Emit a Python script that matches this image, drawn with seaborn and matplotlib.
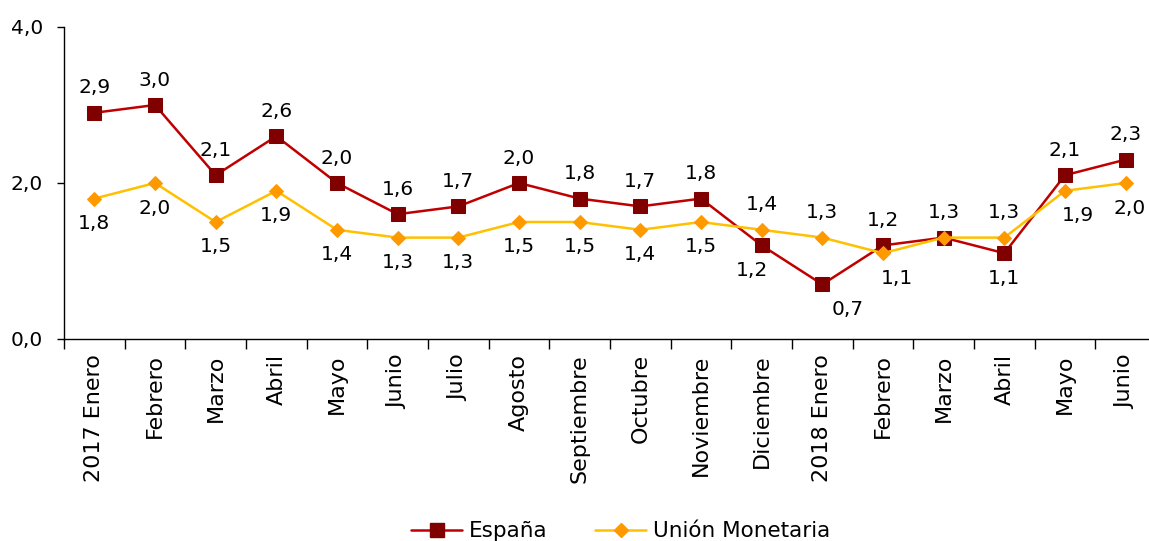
import numpy as np
import pandas as pd
import matplotlib
matplotlib.use("Agg")
import matplotlib.pyplot as plt
import seaborn as sns
from matplotlib.lines import Line2D

months = ["2017 Enero", "Febrero", "Marzo", "Abril", "Mayo", "Junio", "Julio", "Agosto",
          "Septiembre", "Octubre", "Noviembre", "Diciembre", "2018 Enero", "Febrero",
          "Marzo", "Abril", "Mayo", "Junio"]
espana = [2.9, 3.0, 2.1, 2.6, 2.0, 1.6, 1.7, 2.0, 1.8, 1.7, 1.8, 1.2, 0.7, 1.2, 1.3, 1.1, 2.1, 2.3]
union = [1.8, 2.0, 1.5, 1.9, 1.4, 1.3, 1.3, 1.5, 1.5, 1.4, 1.5, 1.4, 1.3, 1.1, 1.3, 1.3, 1.9, 2.0]

sns.set_theme(style="white")
plt.rcParams['font.family'] = ['DejaVu Sans']
plt.rcParams['text.color'] = 'black'
plt.rcParams['xtick.color'] = 'black'
plt.rcParams['ytick.color'] = 'black'
plt.rcParams['axes.labelcolor'] = 'black'

fig = plt.figure(figsize=(11.49, 5.41), dpi=100)
ax = fig.add_axes([64.0 / 1149, 1 - 339 / 541, (1156 - 64.0) / 1149, (339 - 27) / 541])

idx = np.arange(len(months))
df = pd.DataFrame({"x": idx, "España": espana, "Unión Monetaria": union})

LW = 1.8
sns.lineplot(data=df, x="x", y="España", ax=ax, color="#C00000", lw=LW,
             marker="s", markersize=9.5, markerfacecolor="#800000",
             markeredgecolor="#800000", sort=False, clip_on=False)
sns.lineplot(data=df, x="x", y="Unión Monetaria", ax=ax, color="#FFC000", lw=LW,
             marker="D", markersize=7, markerfacecolor="#FF9900",
             markeredgecolor="#FF9900", sort=False, clip_on=False)

def fmt(v):
    return f"{v:.1f}".replace(".", ",")

LFS = 14.5
esp_below = {11: (-7, -18), 12: (18, -18), 15: (0, -18)}
um_above = {11: (0, 18), 12: (0, 18), 14: (0, 18), 15: (0, 18)}
um_shift = {13: 10, 16: 9, 17: 3}
um_skip = {14}  # coincides exactly with the España label

for i, v in enumerate(espana):
    off = esp_below.get(i, (0, 18))
    ax.annotate(fmt(v), (i, v), xytext=off, textcoords="offset points",
                ha="center", va="center", fontsize=LFS, color="black", annotation_clip=False)
for i, v in enumerate(union):
    if i in um_skip:
        continue
    off = um_above.get(i, (um_shift.get(i, 0), -18))
    ax.annotate(fmt(v), (i, v), xytext=off, textcoords="offset points",
                ha="center", va="center", fontsize=LFS, color="black", annotation_clip=False)

ax.set_xlim(-0.5, len(months) - 0.5)
ax.set_ylim(0, 4)
ax.set_yticks([0, 2, 4])
ax.set_yticklabels(["0,0", "2,0", "4,0"], fontsize=LFS)
ax.set_xticks(idx)
ax.set_xticklabels(months, rotation=90, fontsize=16)
ax.set_xticks(np.arange(-0.5, len(months), 1), minor=True)
ax.tick_params(axis="x", which="major", length=0, pad=11)
ax.tick_params(axis="x", which="minor", length=7, width=1, color="black", direction="out", bottom=True)
ax.tick_params(axis="y", which="major", length=5, width=1, color="black", direction="out", left=True, pad=10)
ax.set_xlabel("")
ax.set_ylabel("")
for s in ["top", "right"]:
    ax.spines[s].set_visible(False)
for s in ["left", "bottom"]:
    ax.spines[s].set_color("black")
    ax.spines[s].set_linewidth(1)

handles = [
    Line2D([], [], color="#C00000", lw=LW, marker="s", markersize=9.5,
           markerfacecolor="#800000", markeredgecolor="#800000"),
    Line2D([], [], color="#FFC000", lw=LW, marker="D", markersize=7,
           markerfacecolor="#FF9900", markeredgecolor="#FF9900"),
]
fig.legend(handles, ["España", "Unión Monetaria"], loc="center", bbox_to_anchor=(0.54, 0.018),
           ncol=2, frameon=False, fontsize=15.5, handlelength=2.4, columnspacing=2.2,
           handletextpad=0.3)

fig.savefig("out.png", dpi=100)
